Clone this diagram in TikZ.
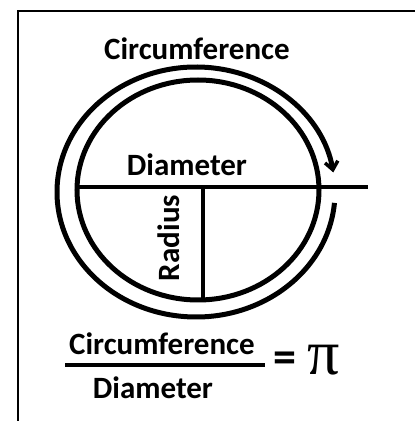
\documentclass[tikz,border=0pt]{standalone}
\usepackage{fontspec}
\setmainfont{Carlito}
\newfontfamily\pifont{Liberation Serif}
\usetikzlibrary{arrows.meta,calc}
\begin{document}
\begin{tikzpicture}[x=1pt,y=1pt,
  lbl/.style={font=\fontsize{31}{31}\selectfont\bfseries, inner sep=0pt, anchor=base},
  ring/.style={line width=5pt},
  bar/.style={line width=4.5pt}]
\useasboundingbox (0,0) rectangle (415,421);
% frame
\draw[line width=2pt] (17.5,0) -- (17.5,410) -- (415,410);
% circles
\coordinate (oc) at (196,229);
\coordinate (ic) at (198,231);
\draw[ring] (ic) ellipse[x radius=121, y radius=110];
\draw[ring, -{Straight Barb[length=8pt,width=13pt,line width=3.5pt]}]
  ($(oc)+(-5:139 and 125)$) arc[start angle=-5, end angle=-351, x radius=139, y radius=125];
% diameter and radius
\coordinate (dl) at (78,234);
\coordinate (dr) at (368,234);
\coordinate (rt) at (203,234);
\coordinate (rb) at (203,123);
\draw[bar] (dl) -- (dr);
\draw[line width=4pt] (rt) -- (rb);
% labels
\node[lbl] (circ) at (197,361) {Circumference};
\node[lbl] (diam) at (187,245) {Diameter};
\node[lbl, rotate=90, anchor=center] (rad) at (169,183) {Radius};
\node[lbl] (num) at (162,66) {Circumference};
\draw[bar] (65,56) coordinate (fl) -- (265,56) coordinate (fr);
\node[lbl] (den) at (153,23) {Diameter};
\node[anchor=center, inner sep=0pt, font=\fontsize{46}{46}\selectfont\bfseries] (eq) at (285,59) {=};
\node[inner sep=0pt, anchor=center, font=\pifont\fontsize{64}{64}\selectfont] (pi) at (324,61) {π};
\end{tikzpicture}
\end{document}
